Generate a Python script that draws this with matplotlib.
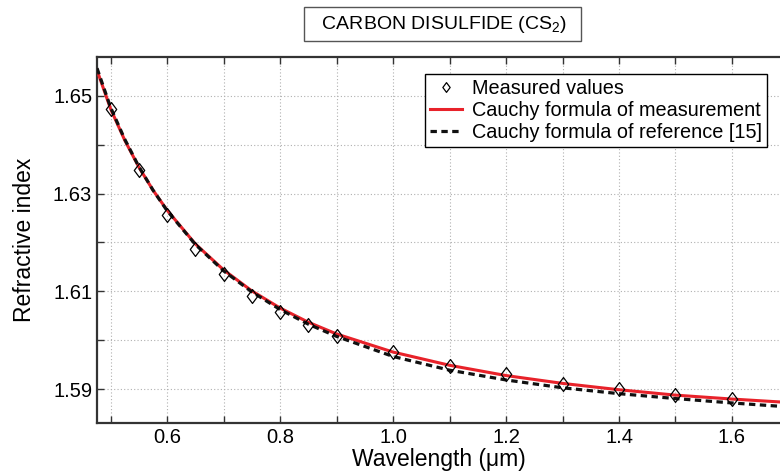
import matplotlib
matplotlib.use('Agg')
import matplotlib.pyplot as plt
from matplotlib.ticker import MultipleLocator
from matplotlib.path import Path

plt.rcParams['font.family'] = ['Liberation Sans', 'DejaVu Sans']
plt.rcParams['mathtext.default'] = 'regular'

# measured refractive index of CS2
wl_meas = [0.5, 0.55, 0.6, 0.65, 0.7, 0.75, 0.8, 0.85, 0.9,
           1.0, 1.1, 1.2, 1.3, 1.4, 1.5, 1.6]
n_meas = [1.6473, 1.6348, 1.6256, 1.6186, 1.6136, 1.6091, 1.6058, 1.6031,
          1.6009, 1.5976, 1.5948, 1.5931, 1.5910, 1.5901, 1.5889, 1.5880]

# curves
wl_curve = [0.476, 0.5, 0.525, 0.55, 0.575, 0.6, 0.65, 0.7, 0.75, 0.8,
            0.85, 0.9, 1.0, 1.1, 1.2, 1.3, 1.4, 1.5, 1.6, 1.7]
n_cauchy_meas = [1.6552, 1.6473, 1.6409, 1.6354, 1.6307, 1.6266, 1.6197,
                 1.6144, 1.6101, 1.6066, 1.6037, 1.6013, 1.5976, 1.5949,
                 1.5928, 1.5912, 1.5899, 1.5888, 1.5880, 1.5873]
n_cauchy_ref = [1.6556, 1.6476, 1.6411, 1.6355, 1.6307, 1.6265, 1.6196,
                1.6142, 1.6099, 1.6063, 1.6033, 1.6008, 1.5967, 1.5939,
                1.5919, 1.5903, 1.5891, 1.5881, 1.5872, 1.5864]

# slightly narrow diamond marker
diamond = Path([(0, 1), (0.75, 0), (0, -1), (-0.75, 0), (0, 1)],
               [Path.MOVETO, Path.LINETO, Path.LINETO, Path.LINETO, Path.CLOSEPOLY])

fig = plt.figure(figsize=(7.8, 4.76), dpi=100)
ax = fig.add_axes([0.1244, 0.1113, 0.8756, 0.769])

ax.plot(wl_curve, n_cauchy_meas, color='#e8222a', lw=2.2,
        label='Cauchy formula of measurement', zorder=3)
ax.plot(wl_curve, n_cauchy_ref, color='#111111', lw=2.3, ls=(0, (2.0, 1.4)),
        label='Cauchy formula of reference [15]', zorder=4)
ax.plot(wl_meas, n_meas, ls='none', marker=diamond, ms=10, mfc='none',
        mec='black', mew=0.9, label='Measured values', zorder=5)

ax.set_xlim(0.476, 1.685)
ax.set_ylim(1.5831, 1.6579)
ax.xaxis.set_minor_locator(MultipleLocator(0.1))
ax.yaxis.set_minor_locator(MultipleLocator(0.01))
ax.set_xticks([0.6, 0.8, 1.0, 1.2, 1.4, 1.6])
ax.set_xticklabels(['0.6', '0.8', '1.0', '1.2', '1.4', '1.6'])
ax.set_yticks([1.59, 1.61, 1.63, 1.65])
ax.set_yticklabels(['1.59', '1.61', '1.63', '1.65'])

ax.grid(True, which='both', color='#b0b0b0', ls=(0, (1, 2)), lw=0.8)
ax.tick_params(which='both', direction='in', top=True, right=False,
               labelsize=14.5, color='#333333', width=1, length=5)
for s in ['left', 'bottom', 'top']:
    ax.spines[s].set_linewidth(1.6)
    ax.spines[s].set_color('#333333')
ax.spines['right'].set_visible(False)

ax.set_xlabel('Wavelength (μm)', fontsize=16.5, labelpad=1)
ax.set_ylabel('Refractive index', fontsize=16.5, labelpad=12)
ax.set_title('  CARBON DISULFIDE (CS$_2$)  ', fontsize=14, pad=20.5,
             x=0.506,
             bbox=dict(boxstyle='square,pad=0.35', fc='white', ec='#555555', lw=1))

h, l = ax.get_legend_handles_labels()
order = [2, 0, 1]
leg = ax.legend([h[i] for i in order], [l[i] for i in order],
                loc='upper right', bbox_to_anchor=(0.981, 0.9536), fontsize=14.3,
                fancybox=False, framealpha=1, edgecolor='black',
                handlelength=1.6, handletextpad=0.5, borderpad=0.25,
                labelspacing=0.15, borderaxespad=0)
leg.get_frame().set_linewidth(1.0)
leg.legend_handles[0].set_markersize(7)

fig.savefig('out.png', dpi=100)
